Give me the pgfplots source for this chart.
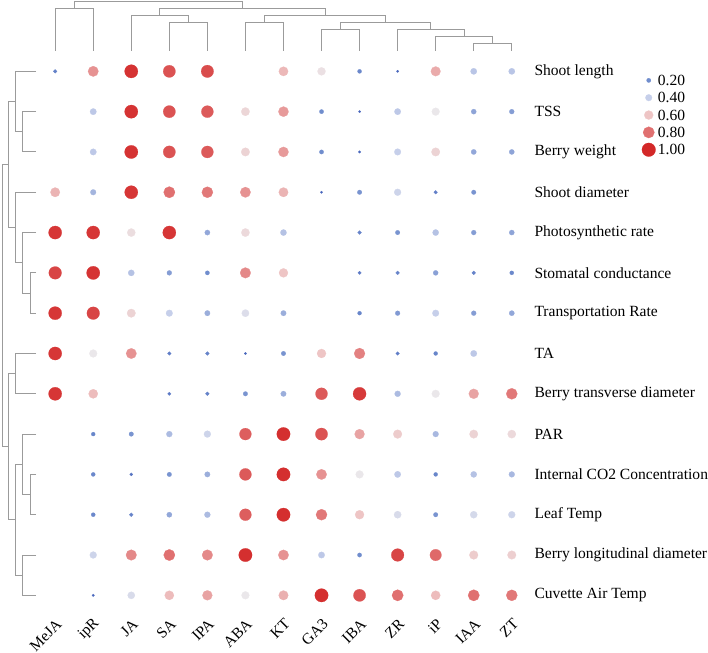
\documentclass[border=0pt]{standalone}
\usepackage{pgfplots}
\pgfplotsset{compat=1.18}
\usepackage{fontspec}
\setmainfont{Liberation Serif}
\usetikzlibrary{calc}

\pgfplotsset{
  colormap={corr}{rgb255(0cm)=(62,92,184) rgb255(2cm)=(112,141,205) rgb255(4cm)=(198,207,234)
    rgb255(5cm)=(234,231,234) rgb255(6cm)=(238,197,197) rgb255(8cm)=(224,112,112) rgb255(10cm)=(211,40,40)},
  dots/.style={scatter, only marks, mark=*, point meta=\thisrow{v},
    scatter/use mapped color={draw=mapped color, fill=mapped color},
    mark options={line width=0.2pt},
    visualization depends on={\thisrow{v} \as \vv},
    scatter/@pre marker code/.append style={/tikz/mark size=1+5.8*\vv}},
  tree/.style={draw={rgb,255:red,155;green,155;blue,155}, line width=1pt, unbounded coords=jump, no marks},
  lbl/.style={font=\fontsize{15.5}{18}\selectfont},
}

\begin{document}
\begin{tikzpicture}
\begin{axis}[name=main,
  x=37.95pt, y=40.2pt,
  xmin=-1.45, xmax=12.5, ymin=-13.5, ymax=1.77,
  axis line style={draw=none}, tick style={draw=none},
  clip=false,
  xtick={0,...,12},
  xticklabels={MeJA,ipR,JA,SA,IPA,ABA,KT,GA3,IBA,ZR,iP,IAA,ZT},
  ytick={-13,...,0},
  yticklabels={Cuvette Air Temp,Berry longitudinal diameter,Leaf Temp,Internal CO2 Concentration,PAR,Berry transverse diameter,TA,Transportation Rate,Stomatal conductance,Photosynthetic rate,Shoot diameter,Berry weight,TSS,Shoot length},
  yticklabel pos=right,
  tick label style={lbl},
  xticklabel style={inner sep=0pt, xshift=4pt, yshift=-6pt, rotate=45, anchor=east},
  yticklabel style={inner sep=0pt, anchor=west, xshift=3.5pt},
  point meta min=0, point meta max=1, colormap name=corr,
]
% top dendrogram (columns)
\addplot[tree] table {
x y
0 0.505
0 1.560
1 1.560
1 0.505
nan nan
3 0.505
3 1.201
4 1.201
4 0.505
nan nan
2 0.505
2 1.376
3.5 1.376
3.5 1.201
nan nan
5 0.505
5 1.201
6 1.201
6 0.505
nan nan
7 0.505
7 1.037
8 1.037
8 0.505
nan nan
11 0.505
11 0.689
12 0.689
12 0.505
nan nan
10 0.505
10 0.853
11.5 0.853
11.5 0.689
nan nan
9 0.505
9 1.037
10.75 1.037
10.75 0.853
nan nan
7.5 1.037
7.5 1.201
9.875 1.201
9.875 1.037
nan nan
5.5 1.201
5.5 1.376
8.6875 1.376
8.6875 1.201
nan nan
2.75 1.376
2.75 1.560
7.09375 1.560
7.09375 1.376
nan nan
0.5 1.560
0.5 1.724
4.921875 1.724
4.921875 1.560
};
% left dendrogram (rows)
\addplot[tree] table {
x y
-0.5 -1
-0.851 -1
-0.851 -2
-0.5 -2
nan nan
-0.5 0
-1.046 0
-1.046 -1.5
-0.851 -1.5
nan nan
-0.5 -5
-0.659 -5
-0.659 -6
-0.5 -6
nan nan
-0.5 -4
-0.851 -4
-0.851 -5.5
-0.659 -5.5
nan nan
-0.5 -3
-1.046 -3
-1.046 -4.75
-0.851 -4.75
nan nan
-1.046 -0.75
-1.239 -0.75
-1.239 -3.875
-1.046 -3.875
nan nan
-0.5 -7
-1.046 -7
-1.046 -8
-0.5 -8
nan nan
-0.5 -10
-0.659 -10
-0.659 -11
-0.5 -11
nan nan
-0.5 -9
-0.851 -9
-0.851 -10.5
-0.659 -10.5
nan nan
-0.5 -12
-0.851 -12
-0.851 -13
-0.5 -13
nan nan
-0.851 -9.75
-1.046 -9.75
-1.046 -12.5
-0.851 -12.5
nan nan
-1.046 -7.5
-1.239 -7.5
-1.239 -11.125
-1.046 -11.125
nan nan
-1.239 -2.3125
-1.378 -2.3125
-1.378 -9.3125
-1.239 -9.3125
};
% dots: x = column, y = -row, v = value
\addplot[dots] table {
x y v
0 0 0.15
1 0 0.72
2 0 0.97
3 0 0.88
4 0 0.90
6 0 0.63
7 0 0.52
8 0 0.18
9 0 0.04
10 0 0.66
11 0 0.37
12 0 0.37
1 -1 0.38
2 -1 0.97
3 -1 0.88
4 -1 0.86
5 -1 0.55
6 -1 0.70
7 -1 0.20
8 -1 0.03
9 -1 0.38
10 -1 0.50
11 -1 0.27
12 -1 0.25
1 -2 0.38
2 -2 0.97
3 -2 0.88
4 -2 0.86
5 -2 0.56
6 -2 0.70
7 -2 0.20
8 -2 0.05
9 -2 0.40
10 -2 0.56
11 -2 0.28
12 -2 0.27
0 -3 0.64
1 -3 0.32
2 -3 0.96
3 -3 0.80
4 -3 0.78
5 -3 0.72
6 -3 0.64
7 -3 0.03
8 -3 0.22
9 -3 0.42
10 -3 0.14
11 -3 0.22
0 -4 0.96
1 -4 0.96
2 -4 0.53
3 -4 0.96
4 -4 0.28
5 -4 0.54
6 -4 0.36
8 -4 0.16
9 -4 0.22
10 -4 0.36
11 -4 0.25
12 -4 0.27
0 -5 0.92
1 -5 0.97
2 -5 0.36
3 -5 0.25
4 -5 0.20
5 -5 0.74
6 -5 0.60
8 -5 0.12
9 -5 0.16
10 -5 0.26
11 -5 0.16
12 -5 0.18
0 -6 0.96
1 -6 0.92
2 -6 0.56
3 -6 0.40
4 -6 0.30
5 -6 0.46
6 -6 0.30
8 -6 0.17
9 -6 0.24
10 -6 0.40
11 -6 0.25
12 -6 0.28
0 -7 0.96
1 -7 0.50
2 -7 0.72
3 -7 0.14
4 -7 0.16
5 -7 0.04
6 -7 0.22
7 -7 0.60
8 -7 0.76
9 -7 0.14
10 -7 0.17
11 -7 0.38
0 -8 0.96
1 -8 0.62
3 -8 0.12
4 -8 0.16
5 -8 0.22
6 -8 0.30
7 -8 0.86
8 -8 0.95
9 -8 0.34
10 -8 0.50
11 -8 0.68
12 -8 0.78
1 -9 0.17
2 -9 0.22
3 -9 0.34
4 -9 0.42
5 -9 0.85
6 -9 0.98
7 -9 0.88
8 -9 0.68
9 -9 0.58
10 -9 0.33
11 -9 0.56
12 -9 0.54
1 -10 0.18
2 -10 0.10
3 -10 0.22
4 -10 0.30
5 -10 0.86
6 -10 0.98
7 -10 0.72
8 -10 0.50
9 -10 0.38
10 -10 0.17
11 -10 0.36
12 -10 0.33
1 -11 0.18
2 -11 0.16
3 -11 0.28
4 -11 0.34
5 -11 0.85
6 -11 0.98
7 -11 0.78
8 -11 0.60
9 -11 0.45
10 -11 0.22
11 -11 0.44
12 -11 0.42
1 -12 0.42
2 -12 0.74
3 -12 0.80
4 -12 0.74
5 -12 0.98
6 -12 0.72
7 -12 0.38
8 -12 0.20
9 -12 0.92
10 -12 0.82
11 -12 0.58
12 -12 0.57
1 -13 0.05
2 -13 0.45
3 -13 0.62
4 -13 0.68
5 -13 0.50
6 -13 0.65
7 -13 0.98
8 -13 0.88
9 -13 0.80
10 -13 0.62
11 -13 0.80
12 -13 0.78
};
\end{axis}

% size/colour key
\begin{axis}[at={($(main.origin)+(592pt,-9pt)$)}, anchor=origin,
  x=1pt, y=17.3pt,
  xmin=-8, xmax=8, ymin=-4.5, ymax=0.5,
  axis line style={draw=none}, tick style={draw=none},
  xtick=\empty, ytick={-4,...,0},
  yticklabels={1.00,0.80,0.60,0.40,0.20},
  yticklabel pos=right,
  yticklabel style={lbl, inner sep=0pt, anchor=west, xshift=1pt},
  point meta min=0, point meta max=1, colormap name=corr, clip=false,
]
\addplot[dots] table {
x y v
0 0 0.2
0 -1 0.4
0 -2 0.6
0 -3 0.8
0 -4 1.0
};
\end{axis}
% a little room below the rotated labels, as in the original
\path ($(main.origin)+(0,-579pt)$);
\end{tikzpicture}
\end{document}
